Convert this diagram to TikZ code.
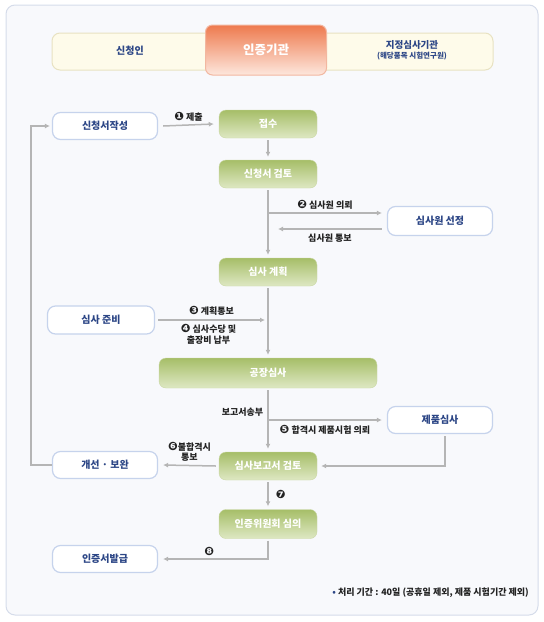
\documentclass[tikz,border=0pt]{standalone}
\usepackage{fontspec}
\usepackage{tikz}
\usetikzlibrary{arrows.meta,positioning,calc}
\setmainfont{Noto Sans CJK KR}
\newfontfamily\numfont{DejaVu Sans}
\definecolor{framebg}{HTML}{F8F9FC}
\definecolor{frameline}{HTML}{D5DCEA}
\definecolor{barbg}{HTML}{FEFBEA}
\definecolor{barline}{HTML}{E8E2C2}
\definecolor{orgtop}{HTML}{EE7A4E}
\definecolor{orgbot}{HTML}{FDE7DD}
\definecolor{orgline}{HTML}{F2B7A0}
\definecolor{grntop}{HTML}{A6BE68}
\definecolor{grnbot}{HTML}{DEE8C3}
\definecolor{boxline}{HTML}{C6D3EC}
\definecolor{navy}{HTML}{2C4686}
\definecolor{ink}{HTML}{222222}
\definecolor{arrgray}{HTML}{B5B5B5}
\newcommand{\cn}[1]{{\numfont\fontsize{11.5}{12}\selectfont#1}}
\tikzset{
  stepgreen/.style={rounded corners=7pt,top color=grntop,bottom color=grnbot,
                    draw=grntop!60,line width=0.4pt,minimum width=98pt,
                    minimum height=28pt,font=\fontsize{10}{12}\selectfont\bfseries,
                    text=white},
  stepwhite/.style={rounded corners=8pt,fill=white,draw=boxline,line width=1.2pt,
                    minimum width=105pt,minimum height=27pt,
                    font=\fontsize{10}{12}\selectfont\bfseries,text=navy},
  lbl/.style={font=\fontsize{9}{10.5}\selectfont\bfseries,text=ink,align=center,
              inner sep=1pt},
  arr/.style={-{Latex[length=5pt,width=5pt]},draw=arrgray,line width=1.5pt},
  ln/.style={draw=arrgray,line width=1.5pt}
}
\begin{document}
\begin{tikzpicture}[x=1pt,y=-1pt]
  \useasboundingbox (0,0) rectangle (544,622);
  \draw[fill=framebg,draw=frameline,line width=1pt,rounded corners=9pt]
    (6,5) rectangle (538,615);

  % header
  \draw[fill=barbg,draw=barline,line width=1pt,rounded corners=8pt]
    (52,33) rectangle (493,70);
  \node[font=\fontsize{10}{12}\selectfont\bfseries,text=navy] (applicant)
    at (130,51) {신청인};
  \node[rounded corners=7pt,top color=orgtop,bottom color=orgbot,draw=orgline,
        line width=1pt,minimum width=121pt,minimum height=50pt,text=white,
        font=\fontsize{12.5}{14}\selectfont\bfseries] (certbody) at (266,50) {인증기관};
  \node[align=center,text=navy,font=\fontsize{9.5}{11}\selectfont\bfseries]
    (testinst) at (412,50)
    {지정심사기관\\[-1pt]{\fontsize{7.5}{9}\selectfont(해당품목 시험연구원)}};

  % steps
  \node[stepwhite] (write) at (105,126) {신청서작성};
  \node[stepgreen] (recv) at (268,124) {접수};
  \node[stepgreen] (review) at (268,174) {신청서 검토};
  \node[stepwhite,minimum height=29pt] (select) at (440,221) {심사원 선정};
  \node[stepgreen] (plan) at (268,272) {심사 계획};
  \node[stepwhite,minimum width=107pt,minimum height=28pt] (prep) at (101,320) {심사 준비};
  \node[stepgreen,minimum width=218pt,minimum height=30pt] (factory) at (268,373) {공장심사};
  \node[stepwhite] (product) at (440,420) {제품심사};
  \node[stepwhite] (improve) at (105,465) {개선 · 보완};
  \node[stepgreen] (report) at (268,466) {심사보고서 검토};
  \node[stepgreen,minimum height=29pt] (committee) at (268,524) {인증위원회 심의};
  \node[stepwhite] (issue) at (105,559) {인증서발급};

  \coordinate (reqend) at (278,229);
  \coordinate (planin) at (265,320);
  \coordinate (loop) at (31,0);

  % connectors
  \draw[arr] ([xshift=5pt]write.east) -- node[lbl,above=2pt] {\cn{❶} 제출}
    ([xshift=-5pt]recv.west);
  \draw[arr] ([yshift=-2pt]recv.south) -- ([yshift=3pt]review.north);
  \draw[arr] ([yshift=-2pt]review.south) -- ([yshift=3pt]plan.north);
  \draw[arr] (review.south |- 0,213) -- node[lbl,above=2pt] {\cn{❷} 심사원 의뢰}
    ([xshift=-5pt]select.west |- 0,213);
  \draw[arr] ([xshift=-5pt]select.west |- reqend) -- node[lbl,below=3pt] {심사원 통보}
    (reqend);
  \draw[arr] ([yshift=-2pt]plan.south) -- ([yshift=3pt]factory.north);
  \draw[arr] ([xshift=3pt]prep.east) -- node[lbl,above=3pt] {\cn{❸} 계획통보}
    node[lbl,below=3pt,xshift=-3pt] {\cn{❹} 심사수당 및\\출장비 납부} (planin);
  \draw[arr] ([yshift=-2pt]factory.south) -- node[lbl,left=3pt,pos=0.38] {보고서송부}
    ([yshift=3pt]report.north);
  \draw[arr] (factory.south |- 0,420) -- node[lbl,below=4pt] {\cn{❺} 합격시 제품시험 의뢰}
    ([xshift=-5pt]product.west);
  \draw[arr] ([xshift=5pt,yshift=-2pt]product.south) |- ([xshift=4pt]report.east);
  \draw[arr] ([xshift=-3pt]report.west) -- node[lbl,above=2pt] {\cn{❻}불합격시\\통보}
    ([xshift=5pt]improve.east);
  \draw[arr] (improve.west) -| (loop |- write.west) -- ([xshift=-2pt]write.west);
  \draw[arr] ([yshift=-2pt]report.south) -- node[lbl,right=6pt] {\cn{❼}}
    ([yshift=3pt]committee.north);
  \draw[arr] ([yshift=-2pt]committee.south) |- node[lbl,above=2pt,pos=0.78] {\cn{❽}}
    ([xshift=5pt]issue.east);

  % note
  \node[lbl,anchor=east] (note) at (530,593)
    {{\color{navy}•} 처리 기간 : 40일 (공휴일 제외, 제품 시험기간 제외)};
\end{tikzpicture}
\end{document}
